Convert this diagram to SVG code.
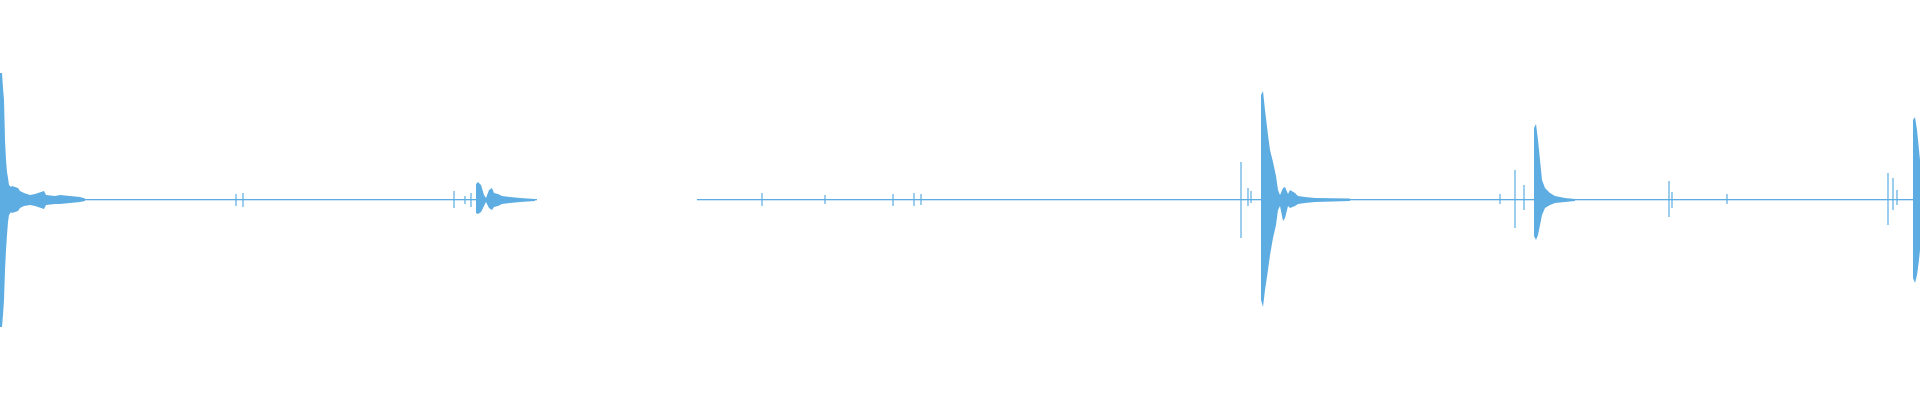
<svg xmlns="http://www.w3.org/2000/svg" width="1920" height="400" viewBox="0 0 1920 400">
<style>.w{fill:#5dade2}.s{stroke:#5dade2;stroke-width:1.2}</style>
<rect width="1920" height="400" fill="#fff"/>
<g id="waveform">
<rect class="w" x="0" y="199" width="537" height="1.3"/>
<rect class="w" x="697" y="199" width="1223" height="1.3"/>
<path class="w" d="M0,73 L2,73 L3,88 L4,100 L5,140 L6,160 L7,172 L8,178 L9,185 L11,187 L12,186 L18,188 L20,191 L24,193 L30,195 L35,194 L44,191 L46,195 L55,196 L60,195 L80,197 L85,198.5 L85,201 L80,202 L60,204 L55,204 L46,205 L44,209 L35,206 L30,205 L24,206 L20,208 L18,211 L12,213 L11,212 L9,215 L8,222 L7,235 L6,250 L5,270 L4,300 L3,315 L2,327 L0,327 Z"/>
<path class="w" d="M476,184 L478,182 L481,185 L484,195 L486,198 L489,190 L492,188 L494,193 L498,194 L502,196 L510,197 L520,198 L535,199 L535,201 L520,202 L510,203 L502,204 L498,206 L494,207 L492,210 L489,208 L486,202 L484,206 L481,212 L478,214 L476,213 Z"/>
<path class="w" d="M1261,95 L1263,91 L1265,110 L1268,135 L1270,150 L1273,162 L1276,176 L1278,190 L1280,195 L1283,188 L1285,187 L1288,194 L1290,190 L1295,193 L1298,196 L1305,197 L1315,198 L1350,198.5 L1350,201 L1315,202 L1305,203 L1298,204 L1295,206 L1290,208 L1288,206 L1285,218 L1283,221 L1280,206 L1278,210 L1276,225 L1273,238 L1270,255 L1268,270 L1265,290 L1263,307 L1261,300 Z"/>
<path class="w" d="M1534,128 L1536,124 L1538,140 L1540,160 L1542,180 L1545,188 L1550,193 L1555,196 L1565,198 L1575,199 L1575,201 L1565,202 L1555,203 L1550,205 L1545,208 L1542,215 L1540,225 L1538,235 L1536,240 L1534,236 Z"/>
<path class="w" d="M1913,120 L1915,117 L1917,130 L1919,150 L1920,160 L1920,250 L1919,260 L1917,275 L1915,283 L1913,278 Z"/>
</g>
<g id="spikes" class="s">
<path d="M236,194V206M243,193V207M454,191V208M465,196V204M471,193V207M762,193V206M825,195V204M893,194V206M914,193V206M921,194V205M1241,162V238M1248,188V206M1251,191V203M1263,183V214M1500,194V204M1515,170V228M1524,185V210M1669,181V217M1672,192V208M1727,194V204M1888,173V225M1893,178V210M1897,190V205"/>
</g>
</svg>
